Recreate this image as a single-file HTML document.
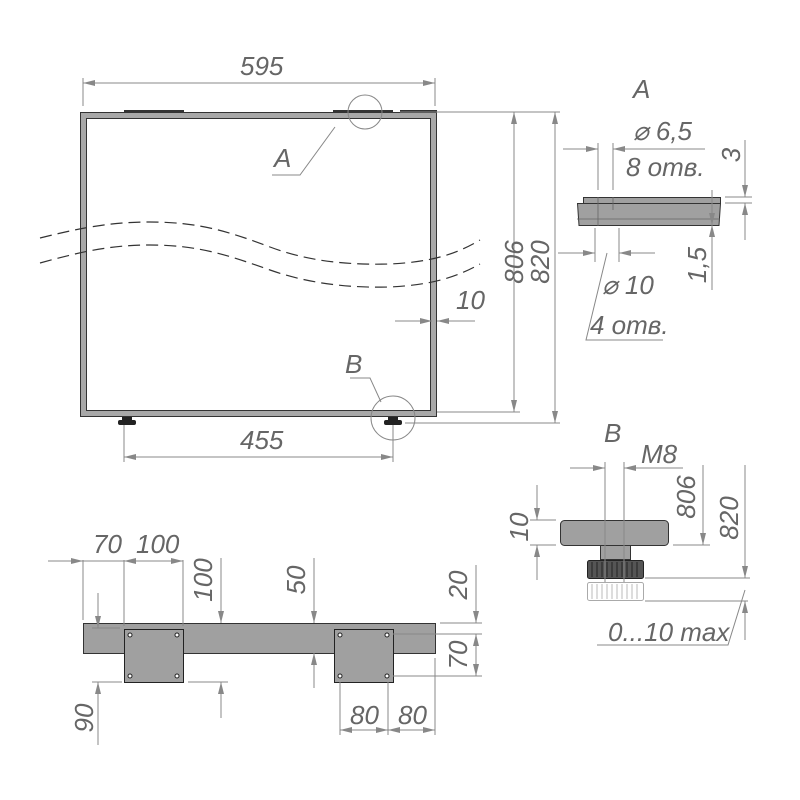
<!DOCTYPE html>
<html><head><meta charset="utf-8"><style>body{margin:0;background:#fff}svg{display:block}text{font-family:"Liberation Sans",sans-serif;font-style:italic;fill:#666;font-size:26px}</style></head><body>
<svg width="800" height="800" viewBox="0 0 800 800" xmlns="http://www.w3.org/2000/svg">
<defs>
<marker id="a" viewBox="0 0 12 6" refX="12" refY="3" markerWidth="12" markerHeight="6" orient="auto-start-reverse" markerUnits="userSpaceOnUse"><path d="M0,0L12,3L0,6z" fill="#888"/></marker>
</defs>
<!-- frame -->
<rect x="80.5" y="112.5" width="356" height="304" fill="#a8a8a8" stroke="#333"/>
<rect x="86.5" y="118.5" width="344" height="292" fill="#fff" stroke="#333"/>
<g stroke="#333" stroke-width="2"><line x1="124" y1="111" x2="184" y2="111"/><line x1="333" y1="111" x2="393" y2="111"/><line x1="400" y1="111" x2="437" y2="111"/></g>
<g fill="#222"><rect x="122" y="417" width="10" height="3"/><rect x="118" y="420" width="18" height="5" rx="2"/><rect x="388" y="417" width="10" height="3"/><rect x="384" y="420" width="18" height="5" rx="2"/></g>
<g stroke="#888" stroke-width="1" fill="none">
<line x1="83" y1="83" x2="435" y2="83" marker-start="url(#a)" marker-end="url(#a)"/>
<line x1="83" y1="78" x2="83" y2="106"/><line x1="435" y1="78" x2="435" y2="106"/>
<line x1="400" y1="112" x2="560" y2="112"/><line x1="437" y1="412" x2="520" y2="412"/><line x1="405" y1="423" x2="560" y2="423"/>
<line x1="514" y1="112" x2="514" y2="412" marker-start="url(#a)" marker-end="url(#a)"/>
<line x1="555" y1="112" x2="555" y2="423" marker-start="url(#a)" marker-end="url(#a)"/>
<line x1="395" y1="321" x2="432" y2="321" marker-end="url(#a)"/><line x1="475" y1="321" x2="437" y2="321" marker-end="url(#a)"/>
<circle cx="365" cy="112" r="17"/><polyline points="335,127 300,175 272,175"/>
<circle cx="393" cy="418" r="22"/><polyline points="350,378 370,378 381,402"/>
<line x1="124" y1="457" x2="393" y2="457" marker-start="url(#a)" marker-end="url(#a)"/>
<line x1="124" y1="425" x2="124" y2="462"/><line x1="393" y1="425" x2="393" y2="462"/>
</g>
<path d="M40,238 C80,228 110,222 150,222 C200,222 230,232 270,247 C310,262 350,265 390,264 C430,262 455,255 480,240" fill="none" stroke="#333" stroke-width="1.2" stroke-dasharray="12,6"/>
<path d="M40,263 C80,252 110,245 150,245 C200,245 230,256 270,270 C310,284 350,288 390,287 C430,285 455,278 480,264" fill="none" stroke="#333" stroke-width="1.2" stroke-dasharray="12,6"/>
<text x="240" y="75">595</text>
<text x="274" y="167" font-size="34">A</text>
<text x="345" y="373" font-size="34">B</text>
<text x="240" y="449">455</text>
<text x="456" y="309">10</text>
<text transform="translate(523,262) rotate(-90)" text-anchor="middle">806</text>
<text transform="translate(549,262) rotate(-90)" text-anchor="middle">820</text>

<!-- Detail A -->
<text x="633" y="98" font-size="34">A</text>
<rect x="583.5" y="197.5" width="137" height="6" fill="#a0a0a0" stroke="#333"/>
<path d="M577.5,203.5 H720.5 L719,225.5 H579 Z" fill="#a0a0a0" stroke="#333"/>
<g stroke="#666" stroke-width="0.8"><line x1="598" y1="197" x2="598" y2="226"/><line x1="613" y1="197" x2="613" y2="210"/><line x1="577" y1="219" x2="720" y2="219"/></g>
<g stroke="#888" fill="none">
<line x1="598" y1="143" x2="598" y2="190"/><line x1="613" y1="143" x2="613" y2="190"/>
<line x1="563" y1="149" x2="598" y2="149" marker-end="url(#a)"/><line x1="705" y1="149" x2="613" y2="149" marker-end="url(#a)"/>
<line x1="595" y1="228" x2="595" y2="262"/><line x1="619" y1="228" x2="619" y2="262"/>
<line x1="558" y1="253" x2="595" y2="253" marker-end="url(#a)"/><line x1="655" y1="253" x2="619" y2="253" marker-end="url(#a)"/>
<polyline points="607,253 586,340 663,340"/>
<line x1="725" y1="197" x2="752" y2="197"/><line x1="725" y1="203" x2="752" y2="203"/>
<line x1="745" y1="140" x2="745" y2="197" marker-end="url(#a)"/><line x1="745" y1="240" x2="745" y2="203" marker-end="url(#a)"/>
<line x1="712" y1="190" x2="712" y2="225" marker-end="url(#a)"/><line x1="712" y1="290" x2="712" y2="225" marker-end="url(#a)"/>
</g>
<text x="633" y="140">⌀ 6,5</text>
<text x="626" y="176">8 отв.</text>
<text x="602" y="294">⌀ 10</text>
<text x="590" y="334">4 отв.</text>
<text transform="translate(740,155) rotate(-90)" text-anchor="middle">3</text>
<text transform="translate(706,265) rotate(-90)" text-anchor="middle">1,5</text>

<!-- Detail B -->
<text x="604" y="442" font-size="34">B</text>
<text x="641" y="463">M8</text>
<rect x="560.5" y="520.5" width="108" height="25" rx="4" fill="#a0a0a0" stroke="#333"/>
<rect x="600.5" y="545.5" width="30" height="14" fill="#a0a0a0" stroke="#333"/>
<rect x="587.5" y="560.5" width="56" height="18" rx="2" fill="#555" stroke="#222"/>
<g stroke="#222"><path d="M592,562V577M597,562V577M602,562V577M607,562V577M612,562V577M617,562V577M622,562V577M627,562V577M632,562V577M637,562V577"/></g>
<rect x="587.5" y="582.5" width="56" height="18" rx="2" fill="#fff" stroke="#aaa"/>
<g stroke="#bbb"><path d="M592,584V599M597,584V599M602,584V599M607,584V599M612,584V599M617,584V599M622,584V599M627,584V599M632,584V599M637,584V599"/></g>
<g stroke="#888" fill="none">
<line x1="605" y1="462" x2="605" y2="582"/><line x1="624" y1="462" x2="624" y2="582"/>
<line x1="570" y1="468" x2="605" y2="468" marker-end="url(#a)"/><line x1="683" y1="468" x2="624" y2="468" marker-end="url(#a)"/>
<line x1="530" y1="520" x2="556" y2="520"/><line x1="530" y1="545" x2="556" y2="545"/>
<line x1="537" y1="485" x2="537" y2="520" marker-end="url(#a)"/><line x1="537" y1="580" x2="537" y2="545" marker-end="url(#a)"/>
<line x1="673" y1="545" x2="710" y2="545"/>
<line x1="703" y1="465" x2="703" y2="545" marker-end="url(#a)"/>
<line x1="645" y1="578" x2="750" y2="578"/><line x1="645" y1="601" x2="748" y2="601"/>
<line x1="745" y1="465" x2="745" y2="578" marker-end="url(#a)"/><line x1="745" y1="640" x2="745" y2="601" marker-end="url(#a)"/>
<polyline points="597,645 728,645 745,590"/>
</g>
<text transform="translate(528,527) rotate(-90)" text-anchor="middle">10</text>
<text transform="translate(695,497) rotate(-90)" text-anchor="middle">806</text>
<text transform="translate(738,518) rotate(-90)" text-anchor="middle">820</text>
<text x="608" y="641">0...10 max</text>

<!-- Bottom view -->
<rect x="83.5" y="623.5" width="352" height="30" fill="#a0a0a0" stroke="#333"/>
<rect x="124.5" y="629.5" width="59" height="53" fill="#a0a0a0" stroke="#222"/>
<rect x="334.5" y="629.5" width="59" height="53" fill="#a0a0a0" stroke="#222"/>
<g fill="#fff" stroke="#222"><circle cx="130" cy="635" r="2"/><circle cx="177" cy="635" r="2"/><circle cx="130" cy="676" r="2"/><circle cx="177" cy="676" r="2"/><circle cx="340" cy="635" r="2"/><circle cx="387" cy="635" r="2"/><circle cx="340" cy="676" r="2"/><circle cx="387" cy="676" r="2"/></g>
<g stroke="#888" fill="none">
<line x1="83" y1="560" x2="83" y2="620"/><line x1="124" y1="560" x2="124" y2="626"/><line x1="183" y1="560" x2="183" y2="626"/>
<line x1="48" y1="561" x2="83" y2="561" marker-end="url(#a)"/><line x1="124" y1="561" x2="183" y2="561" marker-start="url(#a)" marker-end="url(#a)"/><line x1="83" y1="561" x2="124" y2="561"/>
<line x1="221" y1="558" x2="221" y2="623" marker-end="url(#a)"/><line x1="221" y1="718" x2="221" y2="682" marker-end="url(#a)"/>
<line x1="188" y1="682" x2="228" y2="682"/>
<line x1="314" y1="558" x2="314" y2="623" marker-end="url(#a)"/><line x1="314" y1="688" x2="314" y2="653" marker-end="url(#a)"/>
<line x1="440" y1="623" x2="482" y2="623"/><line x1="393" y1="634" x2="482" y2="634"/><line x1="393" y1="676" x2="482" y2="676"/>
<line x1="476" y1="565" x2="476" y2="623" marker-end="url(#a)"/><line x1="476" y1="634" x2="476" y2="676" marker-start="url(#a)" marker-end="url(#a)"/>
<line x1="92" y1="628" x2="120" y2="628"/><line x1="92" y1="682" x2="122" y2="682"/>
<line x1="98" y1="593" x2="98" y2="628" marker-end="url(#a)"/><line x1="98" y1="745" x2="98" y2="682" marker-end="url(#a)"/>
<line x1="340" y1="682" x2="340" y2="735"/><line x1="388" y1="682" x2="388" y2="735"/><line x1="435" y1="658" x2="435" y2="735"/>
<line x1="340" y1="730" x2="388" y2="730" marker-start="url(#a)" marker-end="url(#a)"/><line x1="388" y1="730" x2="435" y2="730" marker-start="url(#a)" marker-end="url(#a)"/>
</g>
<text x="93" y="553">70</text>
<text x="136" y="553">100</text>
<text transform="translate(212,580) rotate(-90)" text-anchor="middle">100</text>
<text transform="translate(305,580) rotate(-90)" text-anchor="middle">50</text>
<text transform="translate(467,585) rotate(-90)" text-anchor="middle">20</text>
<text transform="translate(467,655) rotate(-90)" text-anchor="middle">70</text>
<text transform="translate(93,718) rotate(-90)" text-anchor="middle">90</text>
<text x="350" y="724">80</text>
<text x="398" y="724">80</text>
</svg>
</body></html>
